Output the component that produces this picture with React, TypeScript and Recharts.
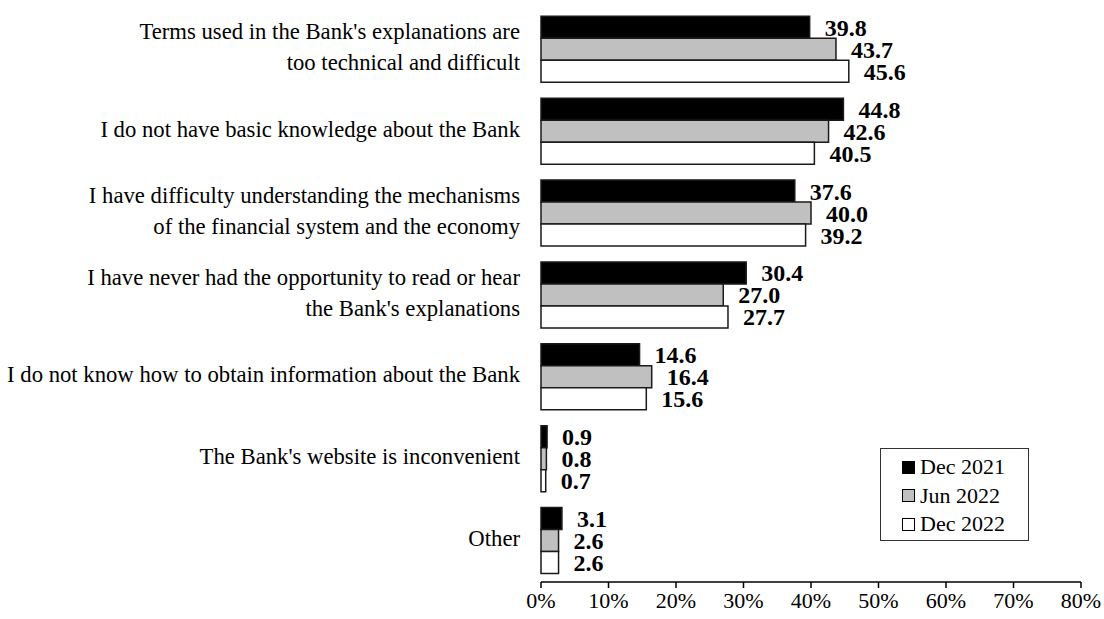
import React from "react";
import {
  Bar,
  BarChart,
  LabelList,
  Legend,
  XAxis,
  YAxis,
} from "recharts";

const categories = [
  "Terms used in the Bank's explanations are\ntoo technical and difficult",
  "I do not have basic knowledge about the Bank",
  "I have difficulty understanding the mechanisms\nof the financial system and the economy",
  "I have never had the opportunity to read or hear\nthe Bank's explanations",
  "I do not know how to obtain information about the Bank",
  "The Bank's website is inconvenient",
  "Other",
];
const dec2021 = [39.8, 44.8, 37.6, 30.4, 14.6, 0.9, 3.1];
const jun2022 = [43.7, 42.6, 40.0, 27.0, 16.4, 0.8, 2.6];
const dec2022 = [45.6, 40.5, 39.2, 27.7, 15.6, 0.7, 2.6];
const xTicks = [0, 10, 20, 30, 40, 50, 60, 70, 80];

const series = [
  { key: "dec2021", name: "Dec 2021", fill: "#000000" },
  { key: "jun2022", name: "Jun 2022", fill: "#c0c0c0" },
  { key: "dec2022", name: "Dec 2022", fill: "#ffffff" },
];

const rows = categories.map((name, i) => ({
  name,
  dec2021: dec2021[i],
  jun2022: jun2022[i],
  dec2022: dec2022[i],
}));

const FONT = "'Liberation Serif', 'Times New Roman', Times, serif";

const CategoryTick = (props: any) => {
  const { x, y, payload } = props;
  const lines = String(payload.value).split("\n");
  const lh = 31;
  const top = y - ((lines.length - 1) * lh) / 2 - 3;
  return (
    <text
      x={x}
      y={top}
      textAnchor="end"
      fontSize={22.7}
      fontFamily={FONT}
      fill="#000"
      dominantBaseline="central"
    >
      {lines.map((l, i) => (
        <tspan key={i} x={x} y={top + i * lh}>
          {l}
        </tspan>
      ))}
    </text>
  );
};

const LegendBox = () => (
  <div
    style={{
      border: "1.5px solid #333",
      width: 149,
      height: 93,
      padding: "4px 0 0 21px",
      boxSizing: "border-box",
      fontFamily: FONT,
      fontSize: 22,
      background: "#fff",
    }}
  >
    {series.map((s) => (
      <div
        key={s.key}
        style={{ display: "flex", alignItems: "center", height: 28.5 }}
      >
        <span
          style={{
            display: "inline-block",
            width: 11,
            height: 11,
            background: s.fill,
            border: "1.5px solid #000",
            marginRight: 5,
          }}
        />
        <span>{s.name}</span>
      </div>
    ))}
  </div>
);

export default function App() {
  return (
    <div
      style={{
        position: "absolute",
        left: 0,
        top: 0,
        width: 1104,
        height: 619,
        background: "#fff",
        fontFamily: FONT,
      }}
    >
      <BarChart
        width={1104}
        height={619}
        data={rows}
        layout="vertical"
        margin={{ top: 9, right: 23, bottom: 0, left: 0 }}
        barCategoryGap="9%"
        barGap={0}
      >
        <XAxis
          type="number"
          domain={[0, 80]}
          ticks={xTicks}
          tickFormatter={(v) => `${v}%`}
          axisLine={{ stroke: "#000", strokeWidth: 1.5 }}
          tickLine={{ stroke: "#000", strokeWidth: 1.5 }}
          tickSize={6}
          tickMargin={4}
          height={37}
          tick={{ fill: "#000", fontSize: 22, fontFamily: FONT }}
          interval={0}
        />
        <YAxis
          type="category"
          dataKey="name"
          width={541}
          axisLine={false}
          tickLine={false}
          tickSize={0}
          tickMargin={21}
          tick={<CategoryTick />}
          interval={0}
        />
        <Legend
          layout="horizontal"
          verticalAlign="middle"
          align="center"
          wrapperStyle={{ left: 880, top: 448, width: 149 }}
          content={<LegendBox />}
        />
        {series.map((s) => (
          <Bar
            key={s.key}
            dataKey={s.key}
            name={s.name}
            fill={s.fill}
            stroke="#1a1a1a"
            strokeWidth={1.5}
            isAnimationActive={false}
          >
            <LabelList
              dataKey={s.key}
              position="right"
              offset={15}
              formatter={(v: any) => Number(v).toFixed(1)}
              fill="#000"
              fontSize={24}
              fontWeight="bold"
              fontFamily={FONT}
            />
          </Bar>
        ))}
      </BarChart>
    </div>
  );
}
